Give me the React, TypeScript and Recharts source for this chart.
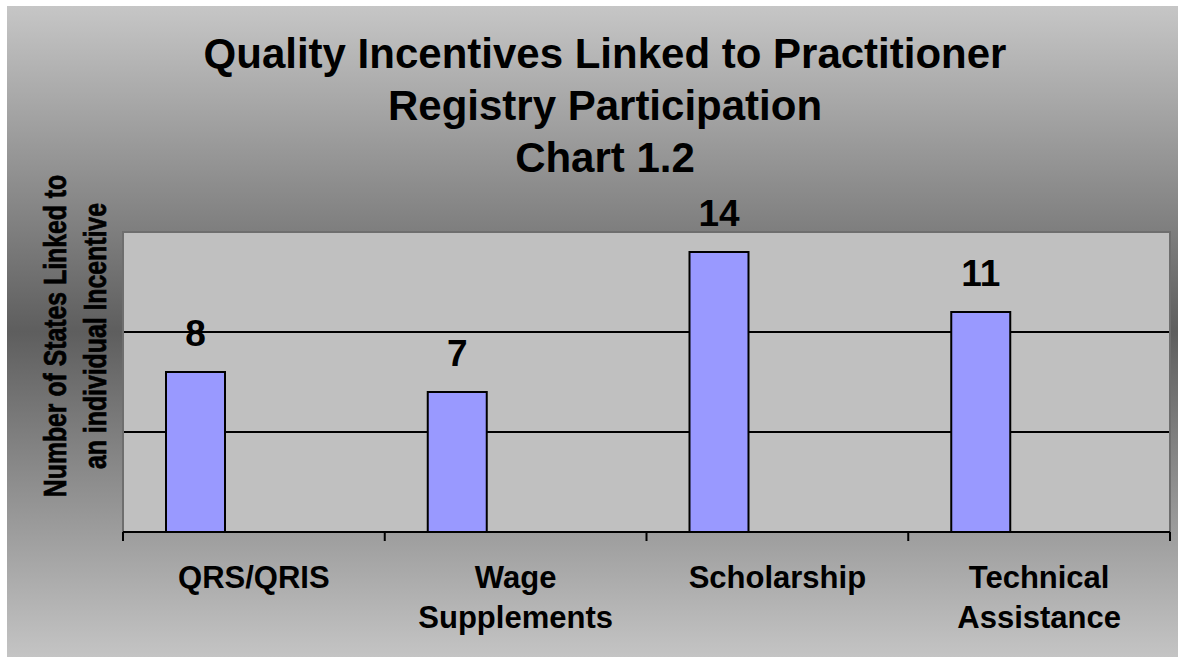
import React from 'react';
import { BarChart, Bar, XAxis, YAxis, CartesianGrid, LabelList, ReferenceArea } from 'recharts';

// values
const categories = ['QRS/QRIS', 'Wage Supplements', 'Scholarship', 'Technical Assistance'];
const stateCounts = [8, 7, 14, 11];
const yTicks = [0, 5, 10];
const titleLines = ['Quality Incentives Linked to Practitioner', 'Registry Participation', 'Chart 1.2'];
const yTitleLines = ['Number of States Linked to', 'an individual Incentive'];

// two empty series keep the bar in the left third of each category, like the original
const data = categories.map((name, i) => ({ name, count: stateCounts[i], pad1: null, pad2: null }));

const FONT = '"Liberation Sans", Arial, sans-serif';

// label plus the tick marks that sit between categories (Excel style)
const CategoryTick = ({ x, y, payload, index }: any) => {
  const lines = String(payload.value).split(' ');
  const half = payload.offset ?? 130.9;
  const last = index === categories.length - 1;
  return (
    <g>
      <line x1={x - half} x2={x - half} y1={y} y2={y + 9} stroke="#000" strokeWidth={2} />
      {last && <line x1={x + half} x2={x + half} y1={y} y2={y + 9} stroke="#000" strokeWidth={2} />}
      <text x={x} y={y} textAnchor="middle" fontFamily={FONT} fontWeight="bold" fontSize={31} fill="#000">
        {lines.map((line, i) => (
          <tspan key={i} x={x} dy={i === 0 ? 56 : 40}>
            {line}
          </tspan>
        ))}
      </text>
    </g>
  );
};

const ValueLabel = ({ x, y, width, value }: any) => (
  <text x={x + width / 2} y={y - 26} textAnchor="middle" fontFamily={FONT} fontWeight="bold" fontSize={37} fill="#000">
    {value}
  </text>
);

export default function App() {
  return (
    <div style={{ position: 'fixed', left: 0, top: 0, width: 1184, height: 663, background: '#fff' }}>
      <div
        style={{
          position: 'absolute',
          left: 7,
          top: 6,
          width: 1171,
          height: 651,
          background: 'linear-gradient(to bottom, #c6c6c6 0%, #5e5e5e 50%, #c4c4c4 100%)',
        }}
      />
      <div style={{ position: 'absolute', left: 0, top: 0 }}>
        <BarChart
          width={1184}
          height={663}
          data={data}
          margin={{ top: 232, right: 14, left: 123, bottom: 31 }}
          barGap={0}
          barCategoryGap={43}
        >
          <CartesianGrid vertical={false} stroke="#000" strokeWidth={2} fill="#C0C0C0" fillOpacity={1} />
          <ReferenceArea y1={0} y2={15} fill="none" stroke="#6e6e6e" strokeWidth={2} ifOverflow="visible" />
          <XAxis
            dataKey="name"
            interval={0}
            axisLine={{ stroke: '#000', strokeWidth: 2 }}
            tickLine={false}
            tickSize={0}
            tickMargin={0}
            height={100}
            tick={<CategoryTick />}
          />
          <YAxis hide width={0} domain={[0, 15]} ticks={yTicks} />
          <Bar dataKey="count" fill="#9999FF" stroke="#000" strokeWidth={2} isAnimationActive={false}>
            <LabelList dataKey="count" content={<ValueLabel />} />
          </Bar>
          <Bar dataKey="pad1" fill="#993366" isAnimationActive={false} />
          <Bar dataKey="pad2" fill="#FFFFCC" isAnimationActive={false} />
        </BarChart>
      </div>
      <svg width={1184} height={663} style={{ position: 'absolute', left: 0, top: 0, pointerEvents: 'none' }}>
        {titleLines.map((line, i) => (
          <text
            key={line}
            x={605}
            y={68 + i * 52}
            textAnchor="middle"
            fontFamily={FONT}
            fontWeight="bold"
            fontSize={42}
            fill="#000"
          >
            {line}
          </text>
        ))}
        {yTitleLines.map((line, i) => (
          <text
            key={line}
            transform={`translate(${66 + i * 40}, 336) rotate(-90) scale(0.8, 1)`}
            textAnchor="middle"
            fontFamily={FONT}
            fontWeight="bold"
            fontSize={31}
            fill="#000"
            stroke="#000"
            strokeWidth={0.7}
          >
            {line}
          </text>
        ))}
      </svg>
    </div>
  );
}
